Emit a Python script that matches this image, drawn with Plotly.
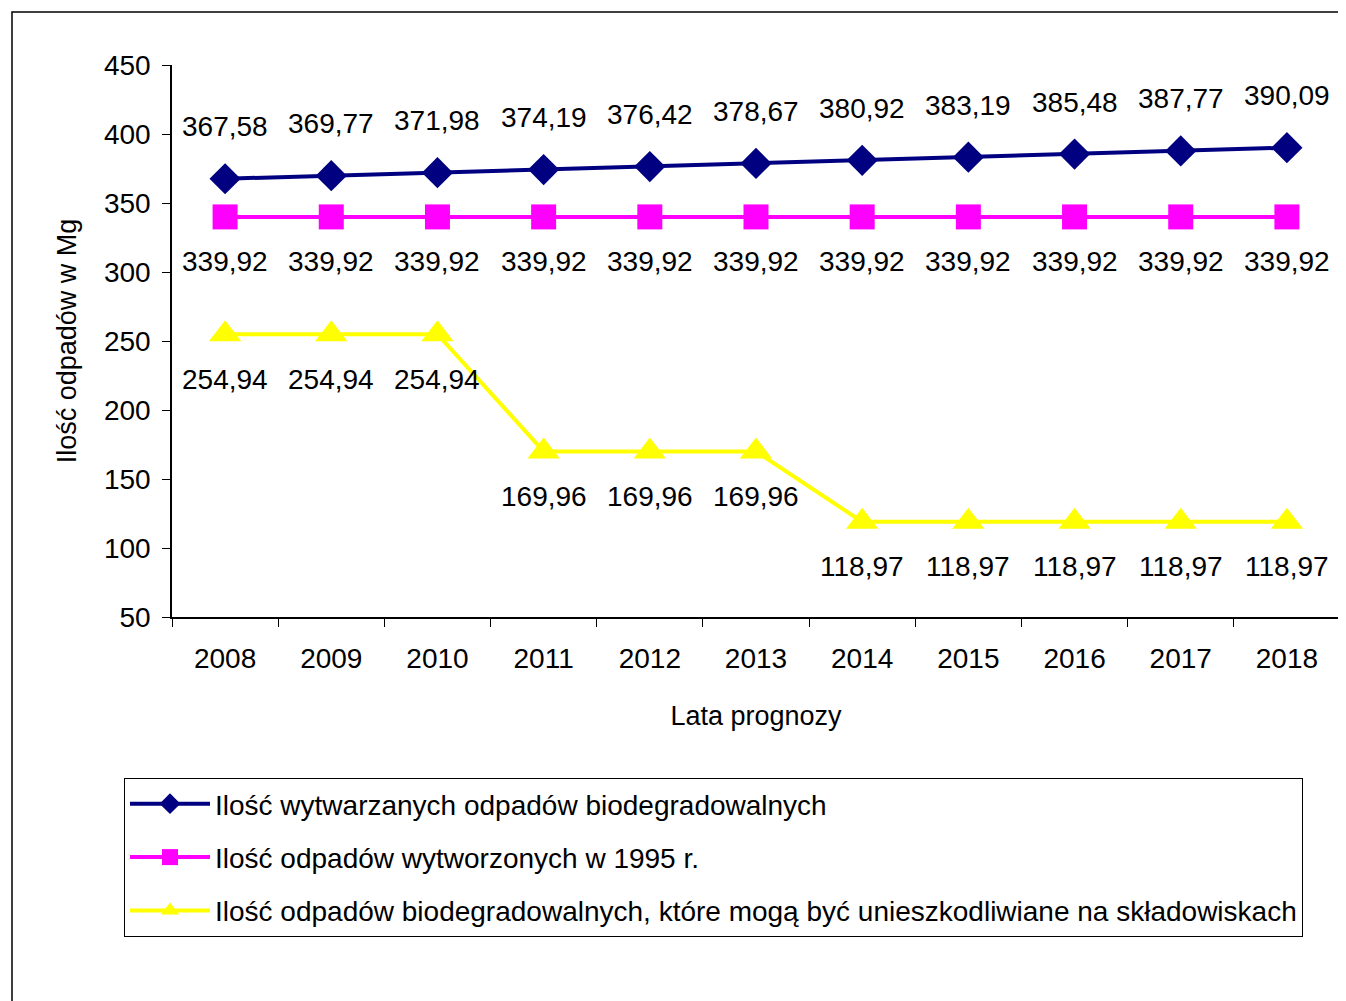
import plotly.graph_objects as go

years = ["2008", "2009", "2010", "2011", "2012", "2013", "2014", "2015", "2016", "2017", "2018"]
generated = [367.58, 369.77, 371.98, 374.19, 376.42, 378.67, 380.92, 383.19, 385.48, 387.77, 390.09]
base_1995 = [339.92] * 11
landfill_allowed = [254.94, 254.94, 254.94, 169.96, 169.96, 169.96, 118.97, 118.97, 118.97, 118.97, 118.97]

names = [
    "Ilość wytwarzanych odpadów biodegradowalnych",
    "Ilość odpadów wytworzonych w 1995 r.",
    "Ilość odpadów biodegradowalnych, które mogą być unieszkodliwiane na składowiskach",
]

# page has an 8px body margin; figure sized to fit the 1346x1001 window exactly
OFF = 8
W, H = 1346 - OFF, 1001 - OFF
FONT = "Liberation Sans, Arial, sans-serif"


def px(x):
    return (x - OFF) / W


def py(y):
    return 1 - (y - OFF) / H


fig = go.Figure()
series = [
    (generated, "#000080", "diamond", 24, 52),
    (base_1995, "#FF00FF", "square", 25, -45),
    (landfill_allowed, "#FFFF00", "triangle-up", 28, -45),
]
for i, (vals, col, sym, msize, shift) in enumerate(series):
    fig.add_trace(go.Scatter(
        x=years, y=vals, name=names[i], mode="lines+markers",
        line=dict(color=col, width=4),
        marker=dict(symbol=sym, size=msize, color=col),
        legendgroup=f"g{i}",
    ))
    for idx, v in enumerate(vals):
        fig.add_annotation(
            x=idx, y=v, text=f"{v:.2f}".replace(".", ","), showarrow=False,
            yshift=shift, font=dict(size=28, color="black", family=FONT),
        )

fig.update_layout(
    width=W, height=H, autosize=False,
    margin=dict(l=0, r=0, t=0, b=0, autoexpand=False),
    paper_bgcolor="white", plot_bgcolor="white",
    font=dict(family=FONT, size=28, color="black"),
    showlegend=True,
    legend=dict(
        x=px(124), y=py(778), xanchor="left", yanchor="top",
        bordercolor="black", borderwidth=1, bgcolor="white",
        font=dict(size=28, family=FONT), tracegroupgap=14,
        itemwidth=80,
    ),
    xaxis=dict(
        domain=[px(172), px(1340)], type="category", range=[-0.5, 10.5],
        tickson="boundaries", ticks="outside", ticklen=8, tickcolor="black",
        ticklabelstandoff=16,
        showline=True, linecolor="black", linewidth=1.5, showgrid=False,
        tickfont=dict(size=28), title=dict(text="Lata prognozy", font=dict(size=27), standoff=33),
    ),
    yaxis=dict(
        domain=[py(617), py(65)], range=[50, 450], dtick=50,
        ticks="outside", ticklen=8, tickcolor="black",
        ticklabelstandoff=6,
        showline=True, linecolor="black", linewidth=1.5, showgrid=False, zeroline=False,
        tickfont=dict(size=28), title=dict(text="Ilość odpadów w Mg", font=dict(size=27), standoff=19),
    ),
    shapes=[dict(type="rect", xref="paper", yref="paper",
                 x0=px(12), x1=1.2, y0=-0.2, y1=py(12),
                 line=dict(color="black", width=1.5))],
)

fig.write_html("out.html")
